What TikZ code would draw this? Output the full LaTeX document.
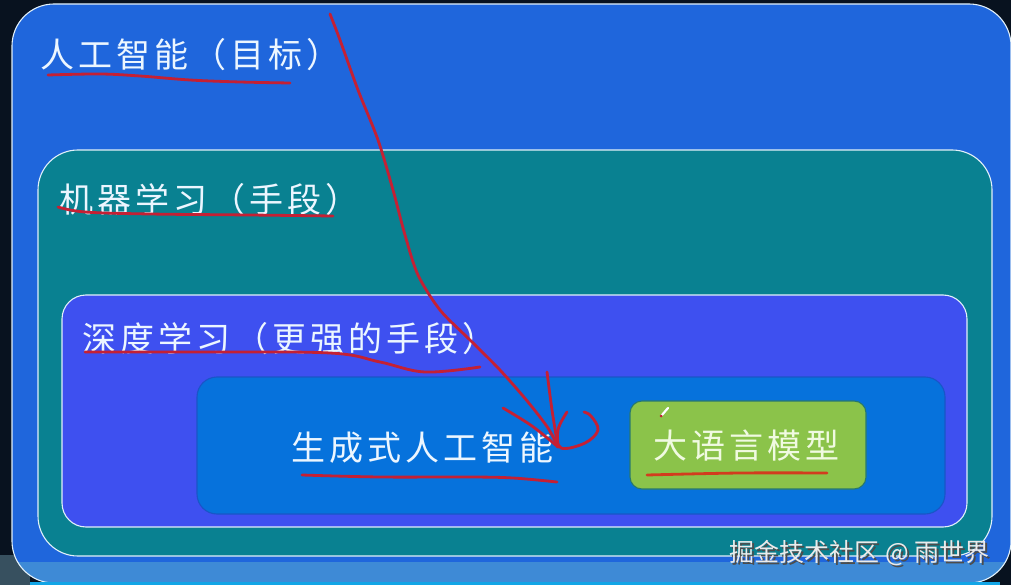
\documentclass[tikz,border=0pt]{standalone}
\usepackage{fontspec}
\newfontfamily\cjk[LetterSpace=12]{Noto Sans CJK SC}
\newfontfamily\cjkw{Noto Sans CJK SC}
\definecolor{bgdark}{RGB}{8,18,31}
\definecolor{outerblue}{RGB}{31,102,220}
\definecolor{bandblue}{RGB}{62,138,214}
\definecolor{stripcyan}{RGB}{18,165,230}
\definecolor{tealbox}{RGB}{9,129,145}
\definecolor{violetbox}{RGB}{62,80,240}
\definecolor{innerblue}{RGB}{6,114,220}
\definecolor{innerline}{RGB}{25,85,200}
\definecolor{greenbox}{RGB}{139,195,74}
\definecolor{greenline}{RGB}{40,120,110}
\definecolor{edge}{RGB}{225,240,250}
\definecolor{chalk}{RGB}{236,246,255}
\definecolor{redink}{RGB}{196,32,52}
\definecolor{orangeink}{RGB}{210,60,30}
\definecolor{leftgray}{RGB}{55,80,95}
\tikzset{
  box/.style={inner sep=0pt, outer sep=0pt, anchor=north west, line width=1.1pt},
  lab/.style={inner sep=0pt, anchor=base west, text=chalk, font=\cjk\fontsize{34}{34}\selectfont},
  ink/.style={draw=redink, line width=2.8pt, line cap=round, line join=round},
}
\begin{document}
\begin{tikzpicture}[x=1pt,y=-1pt]
\useasboundingbox (0,0) rectangle (1011,585);
\fill[bgdark] (0,0) rectangle (1011,585);
\fill[leftgray] (0,555) rectangle (30,585);
% outer box
\node[box, fill=outerblue, rounded corners=42, minimum width=999pt, minimum height=579pt] (ai) at (12,4) {};
\begin{scope}
  \clip[rounded corners=42] (12,4) rectangle (1011,583);
  \fill[bandblue] (0,562) rectangle (1011,583);
\end{scope}
\draw[edge, line width=1.1pt, rounded corners=42] (12,4) rectangle (1011,583);
\fill[stripcyan] (30,582) rectangle (1000,585);
% nested boxes
\node[box, draw=edge, fill=tealbox, rounded corners=40, minimum width=954pt, minimum height=406pt] (ml) at (38,150) {};
\node[box, draw=edge, fill=violetbox, rounded corners=24, minimum width=905pt, minimum height=232pt] (dl) at (62,295) {};
\node[box, draw=innerline, fill=innerblue, rounded corners=20, minimum width=748pt, minimum height=137pt] (gen) at (197,377) {};
\node[box, draw=greenline, fill=greenbox, rounded corners=12, minimum width=236pt, minimum height=88pt] (llm) at (630,401) {};
% labels
\node[lab] (t1) at (40,68) {人工智能（目标）};
\node[lab] (t2) at (59,213) {机器学习（手段）};
\node[lab] (t3) at (82,351) {深度学习（更强的手段）};
\node[lab] (t4) at (291,460) {生成式人工智能};
\node[lab, text={rgb,255:red,240;green,250;blue,225}] (t5) at (653,458) {大语言模型};
% watermark
\node[inner sep=0pt, anchor=base east, text=black!70, font=\cjkw\fontsize{25}{25}\selectfont] at (992,563) {掘金技术社区 @ 雨世界};
\node[inner sep=0pt, anchor=base east, text={rgb,255:red,235;green,235;blue,235}, font=\cjkw\fontsize{25}{25}\selectfont] (wm) at (990,561) {掘金技术社区 @ 雨世界};
% red annotations
\draw[ink] plot[smooth, tension=0.6] coordinates {(48,75) (100,74) (140,76) (190,80) (240,82) (290,83)};
\draw[ink] plot[smooth, tension=0.6] coordinates {(58,207) (85,212) (150,214) (250,215) (333,216)};
\draw[ink] plot[smooth, tension=0.6] coordinates {(85,352) (200,352) (330,353) (380,362) (425,372) (480,367)};
\draw[ink] plot[smooth, tension=0.6] coordinates {(302,475) (380,477) (470,477) (513,478) (557,482)};
\draw[draw=orangeink, line width=2.8pt, line cap=round] plot[smooth, tension=0.6] coordinates {(647,475) (740,473) (827,473)};
% long arrow
\draw[ink] plot[smooth, tension=0.5] coordinates {(330,14) (340,40) (358,90) (378,140) (393,190) (405,235) (418,275) (440,310) (470,340) (500,370) (528,402) (548,428) (558,447)};
\draw[ink] plot[smooth, tension=0.6] coordinates {(503,408) (532,426) (558,447)};
\draw[ink] plot[smooth, tension=0.6] coordinates {(547,372) (552,410) (558,447)};
\draw[ink] plot[smooth, tension=0.6] coordinates {(567,412) (558,430) (561,448) (585,443) (598,430) (591,416) (584,412)};
% pencil cursor
\draw[white, line width=2.2pt, line cap=round] (668,408) -- (662,415);
\fill[redink] (661,416) circle (1.5pt);
\end{tikzpicture}
\end{document}
